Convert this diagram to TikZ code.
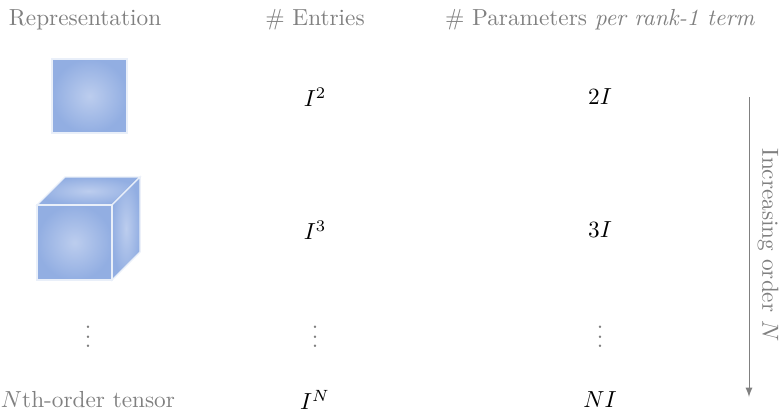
\documentclass[tikz,border=0pt]{standalone}
\usepackage{tikz}
\usetikzlibrary{shapes,arrows,positioning}
\definecolor{tenblue}{RGB}{146,174,226}
\definecolor{tenlight}{RGB}{188,205,238}
\tikzstyle{head}=[text=gray,inner sep=1pt]
\tikzstyle{val}=[inner sep=1pt]
\tikzstyle{vdot}=[text=gray,inner sep=0pt]
\tikzstyle{face}=[draw=white!80!tenblue,line width=0.6pt,inner color=tenlight,outer color=tenblue]

\begin{document}
\begin{tikzpicture}[x=0.43pt,y=-0.43pt]
\useasboundingbox (0,0) rectangle (783,412);
% headers
\node (rep) [head] at (85,20) {Representation};
\node (ent) [head] at (315,20) {\# Entries};
\node (par) [head] at (600,20) {\# Parameters \textit{per rank-1 term}};
% matrix row
\shade[face] (52,59) rectangle (127,133);
\node (e2) [val] at (315,97) {$I^2$};
\node (p2) [val] at (600,97) {$2I$};
% cube row
\shade[face] (37,205) -- (65,177) -- (140,177) -- (112,205) -- cycle;
\shade[face] (112,205) -- (140,177) -- (140,252) -- (112,280) -- cycle;
\shade[face] (37,205) rectangle (112,280);
\node (e3) [val] at (315,230) {$I^3$};
\node (p3) [val] at (600,230) {$3I$};
% dots
\node (d1) [vdot] at (88,330) {$\vdots$};
\node (d2) [vdot] at (315,330) {$\vdots$};
\node (d3) [vdot] at (600,330) {$\vdots$};
% last row
\node (repn) [head] at (88,400) {$N$th-order tensor};
\node (en) [val] at (315,400) {$I^N$};
\node (pn) [val] at (600,400) {$NI$};
% order arrow
\coordinate (top) at (749,97);
\coordinate (bot) at (749,397);
\draw [gray,-latex] (top) -- (bot);
\node (ord) [head,rotate=-90] at (768,245) {Increasing order $N$};
\end{tikzpicture}
\end{document}
